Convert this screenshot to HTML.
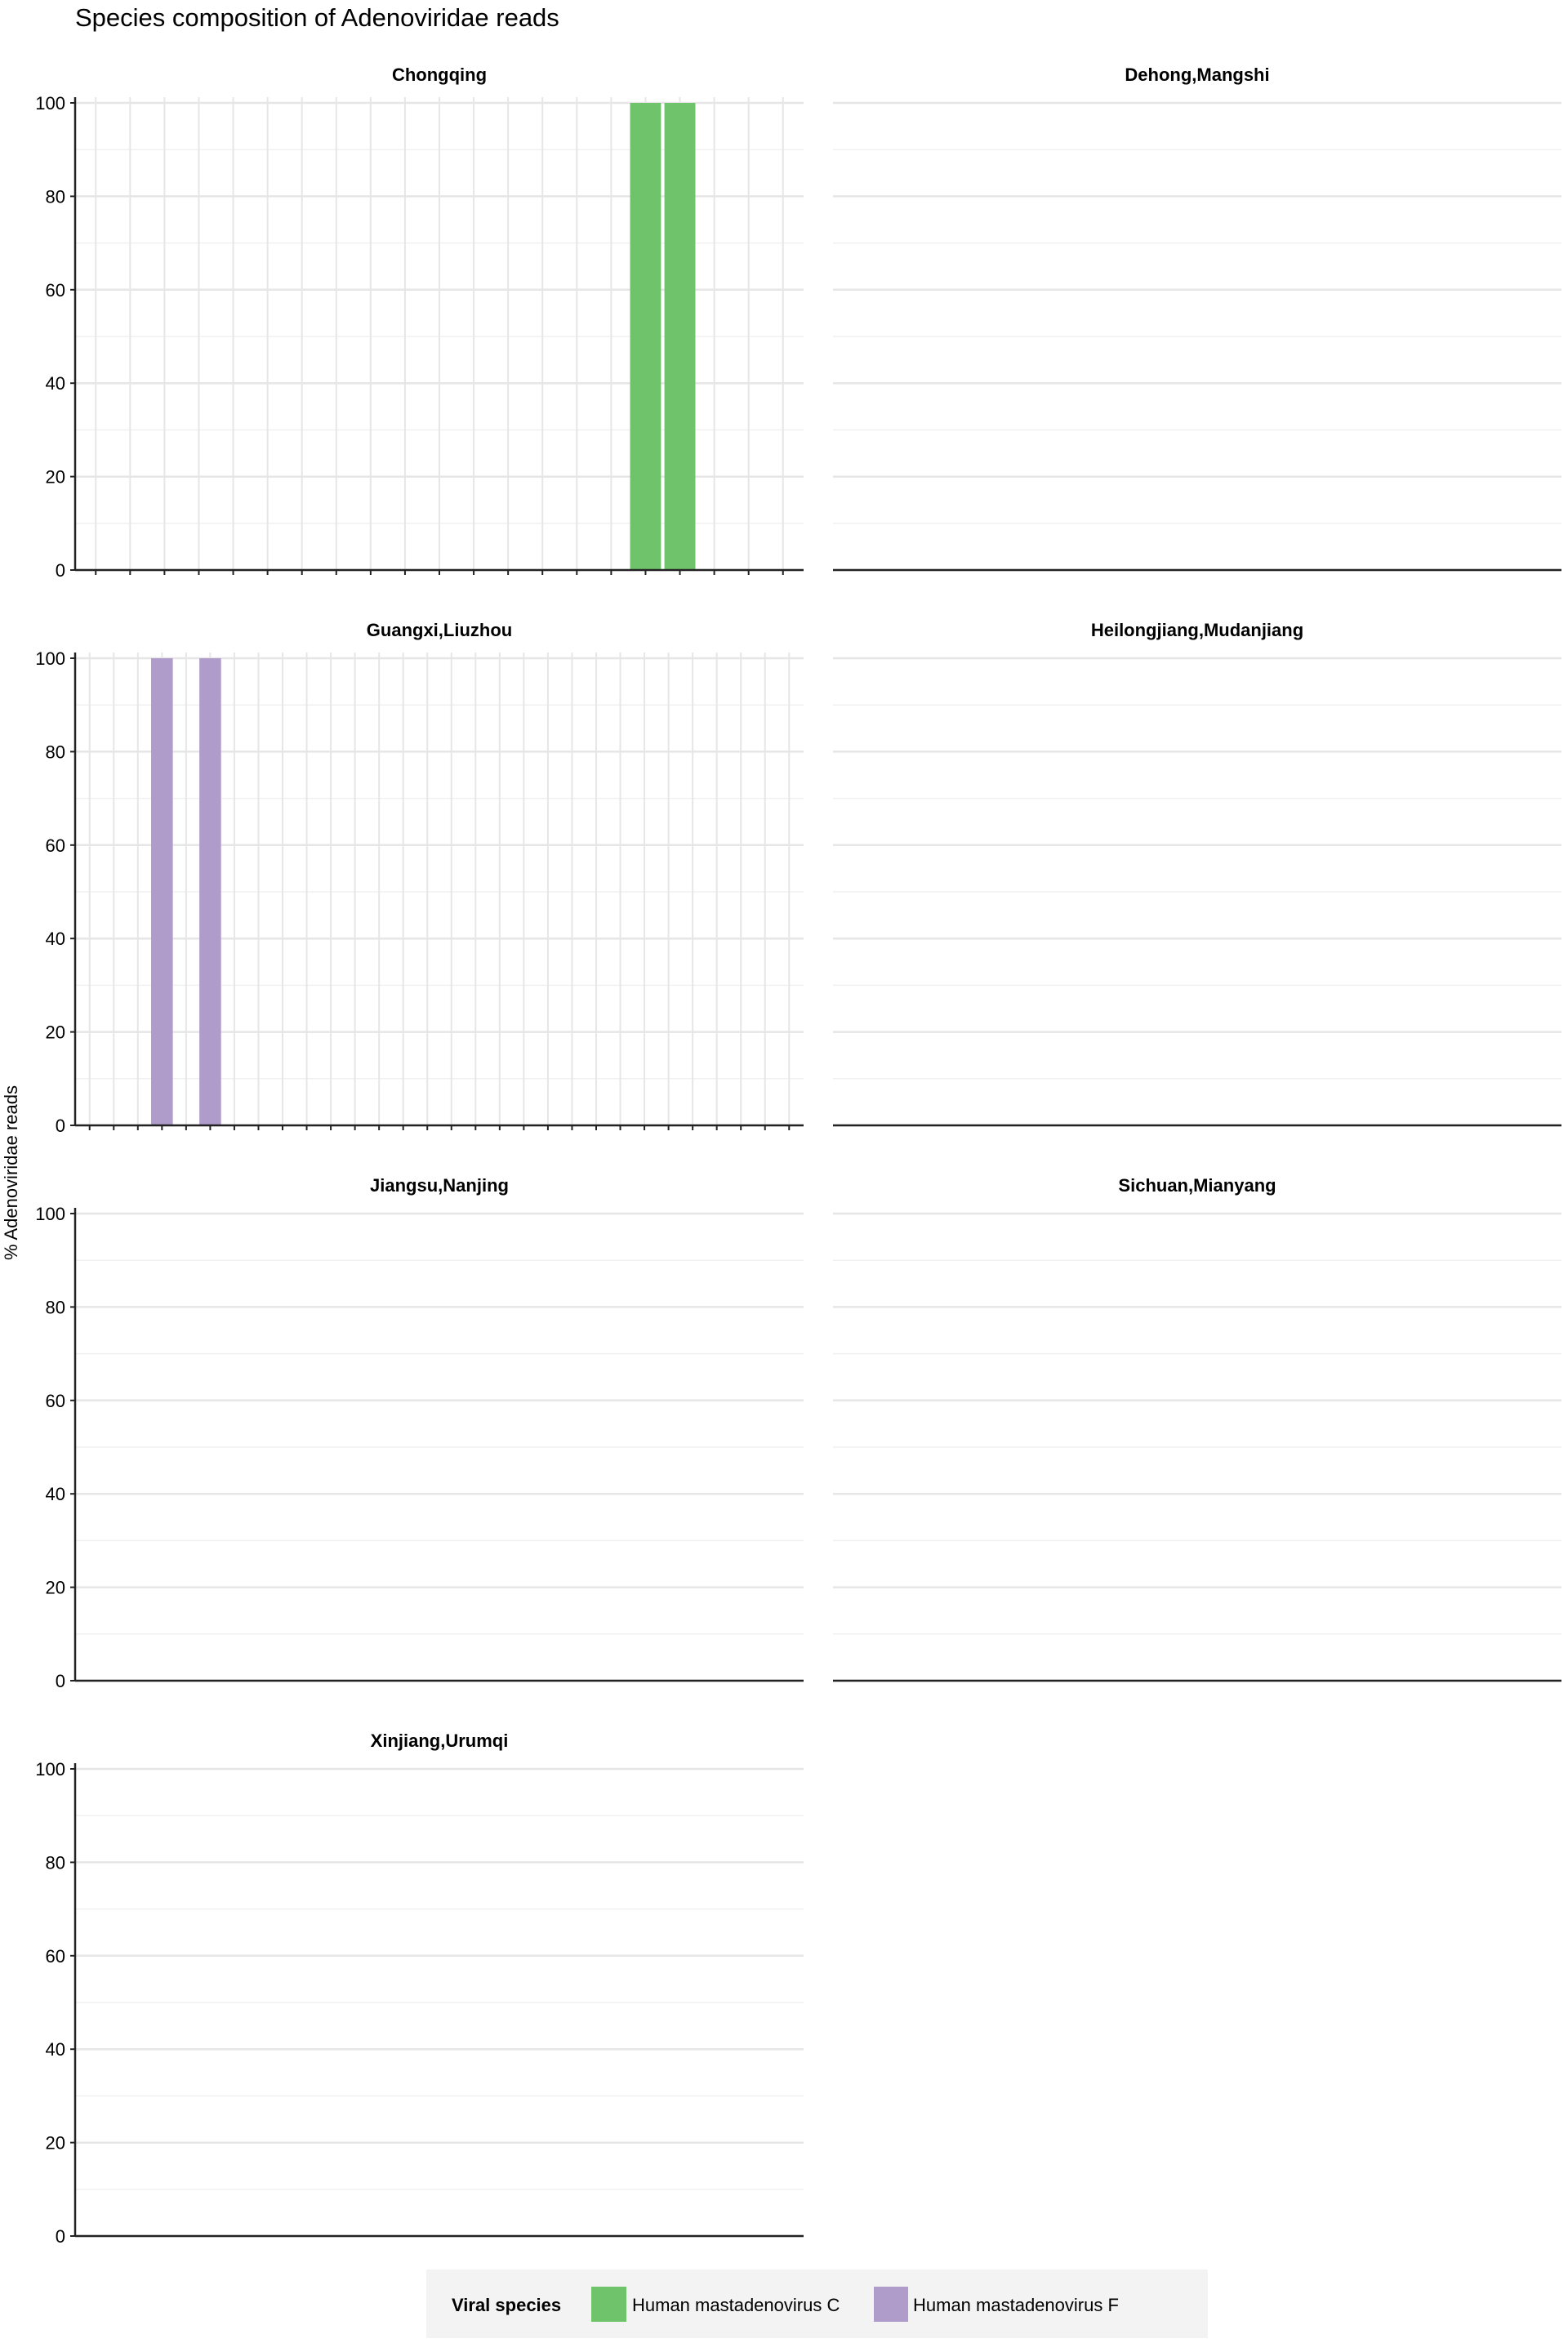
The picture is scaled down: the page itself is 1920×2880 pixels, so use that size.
<!DOCTYPE html>
<html><head><meta charset="utf-8"><style>
html,body{margin:0;padding:0;background:#fff;}
svg{display:block;font-family:"Liberation Sans",Arial,sans-serif;}
</style></head><body>
<svg id="chart" width="1920" height="2880" viewBox="0 0 1920 2880" xmlns="http://www.w3.org/2000/svg">
<text x="92" y="32" font-size="31" fill="#000">Species composition of Adenoviridae reads</text>
<text transform="translate(21,1436) rotate(-90)" text-anchor="middle" font-size="22" fill="#000">% Adenoviridae reads</text>
<g id="panels"></g>
<g>
<rect x="522" y="2779" width="957" height="84" fill="#f3f3f3"/>
<text x="553" y="2830" font-size="22" font-weight="bold" fill="#000">Viral species</text>
<rect x="724" y="2800" width="43" height="43" fill="#6fc36b"/>
<text x="774" y="2830" font-size="22" fill="#000">Human mastadenovirus C</text>
<rect x="1070" y="2800" width="42" height="43" fill="#af9ccb"/>
<text x="1118" y="2830" font-size="22" fill="#000">Human mastadenovirus F</text>
</g>
</svg>
<script>
const facets = ["Chongqing","Dehong,Mangshi","Guangxi,Liuzhou","Heilongjiang,Mudanjiang","Jiangsu,Nanjing","Sichuan,Mianyang","Xinjiang,Urumqi"];
const sampleCounts = [21,0,30,0,0,0,0];
const chongqingC = [0,0,0,0,0,0,0,0,0,0,0,0,0,0,0,0,100,100,0,0,0];
const guangxiF = [0,0,0,100,0,100,0,0,0,0,0,0,0,0,0,0,0,0,0,0,0,0,0,0,0,0,0,0,0,0];
const seriesByFacet = {"Chongqing":{vals:chongqingC,color:"#6fc36b"},"Guangxi,Liuzhou":{vals:guangxiF,color:"#af9ccb"}};
const yTicks = [0,20,40,60,80,100];
const yMinor = [10,30,50,70,90];

const NS="http://www.w3.org/2000/svg";
const root=document.getElementById('panels');
function mk(tag,attrs,parent){const e=document.createElementNS(NS,tag);for(const k in attrs)e.setAttribute(k,attrs[k]);parent.appendChild(e);return e;}
facets.forEach((name,i)=>{
  const col=i%2,row=Math.floor(i/2);
  const x0=col===0?92:1020, x1=col===0?984:1912;
  const yZero=698+row*680, yHund=126+row*680, top=yHund-7;
  const y=v=>yZero-(v/100)*(yZero-yHund);
  const g=mk('g',{},root);
  
  
  const st=mk('text',{x:(x0+x1)/2,y:yHund-27,'text-anchor':'middle','font-size':22,'font-weight':'bold',fill:'#000'},g);
  st.textContent=name;
  
  
  yMinor.forEach(v=>{const l=mk('line',{x1:x0,x2:x1,y1:y(v),y2:y(v),stroke:'#f0f0f0','stroke-width':1.5},g);
    
    });
  yTicks.forEach(v=>{const l=mk('line',{x1:x0,x2:x1,y1:y(v),y2:y(v),stroke:'#e6e6e6','stroke-width':2.5},g);
    
    });
  const n=sampleCounts[i];
  const step=n>0?(x1-x0)/(n+0.2):0;
  const xc=k=>x0+step*(0.6+k);
  for(let k=0;k<n;k++){
    const l=mk('line',{x1:xc(k),x2:xc(k),y1:top,y2:yZero,stroke:'#e6e6e6','stroke-width':2},g);
    
    
    const t=mk('line',{x1:xc(k),x2:xc(k),y1:yZero,y2:yZero+6,stroke:'#222','stroke-width':2},g);
    
    
  }
  const s=seriesByFacet[name];
  if(s){s.vals.forEach((v,k)=>{if(v<=0)return;const bw=step*0.9;
    const r=mk('rect',{x:xc(k)-bw/2,y:y(v),width:bw,height:yZero-y(v),fill:s.color},g);
    
    });}
  if(col===0){
    const ax=mk('line',{x1:x0,x2:x0,y1:top,y2:yZero,stroke:'#222','stroke-width':2.5},g);
    
    
    yTicks.forEach(v=>{
      const t=mk('line',{x1:x0-6,x2:x0,y1:y(v),y2:y(v),stroke:'#222','stroke-width':2},g);
      
      
      const tl=mk('text',{x:x0-12,y:y(v)+8,'text-anchor':'end','font-size':22,fill:'#000'},g);
      tl.textContent=v;
      
      
    });
  }
  const xa=mk('line',{x1:x0,x2:x1,y1:yZero,y2:yZero,stroke:'#222','stroke-width':2.5},g);
  
  
});
</script>
</body></html>
